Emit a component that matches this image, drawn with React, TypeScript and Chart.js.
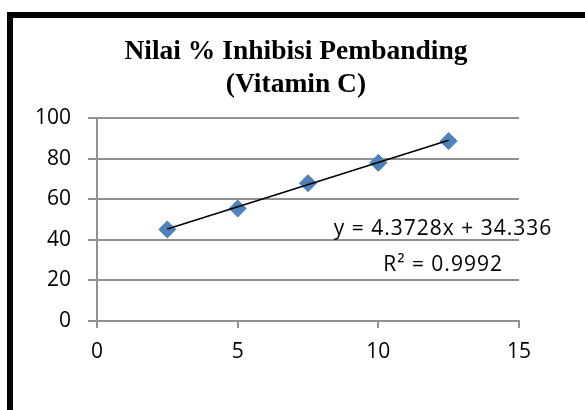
import React, { useEffect, useRef } from "react";
import { Chart, registerables } from "chart.js";

Chart.register(...registerables);

// ---- data ----
const concentrations = [2.5, 5, 7.5, 10, 12.5];
const inhibition = [45.1, 55.4, 67.9, 77.9, 88.6];
const slope = 4.3728;
const intercept = 34.336;
const rSquared = 0.9992;
const titleLines = ["Nilai % Inhibisi Pembanding", "(Vitamin C)"];
const equationText = `y = ${slope}x + ${intercept}`;
const r2Text = `R² = ${rSquared}`;
// equation label anchor (in data units)
const eqAnchorX = 12.3;
const eqAnchorY1 = 45.2;
const eqAnchorY2 = 27.4;

const TICK_FONT = { family: "'Open Sans', 'Noto Sans', sans-serif", size: 21 };
const GRID = "#919191";

const framePlugin = {
  id: "frame",
  beforeDraw(chart: any) {
    const { ctx, width, height } = chart;
    ctx.save();
    ctx.fillStyle = "#ffffff";
    ctx.fillRect(0, 0, width, height);
    ctx.fillStyle = "#000000";
    ctx.fillRect(7, 12, width - 7, 6);
    ctx.fillRect(7, 12, 6, height - 12);
    ctx.restore();
  },
};

const equationPlugin = {
  id: "equation",
  afterDraw(chart: any) {
    const { ctx, scales } = chart;
    const x = scales.x.getPixelForValue(eqAnchorX);
    ctx.save();
    ctx.font = `${TICK_FONT.size}px ${TICK_FONT.family}`;
    (ctx as any).letterSpacing = "1px";
    ctx.fillStyle = "#000000";
    ctx.textAlign = "center";
    ctx.textBaseline = "middle";
    ctx.fillText(equationText, x, scales.y.getPixelForValue(eqAnchorY1));
    ctx.fillText(r2Text, x, scales.y.getPixelForValue(eqAnchorY2));
    ctx.restore();
  },
};

export default function App() {
  const ref = useRef<HTMLCanvasElement | null>(null);

  useEffect(() => {
    if (!ref.current) return;
    const first = concentrations[0];
    const last = concentrations[concentrations.length - 1];
    const chart = new Chart(ref.current, {
      type: "scatter",
      data: {
        datasets: [
          {
            type: "line",
            label: "Trendline",
            data: [
              { x: first, y: slope * first + intercept },
              { x: last, y: slope * last + intercept },
            ],
            borderColor: "#000000",
            borderWidth: 1.6,
            pointRadius: 0,
            fill: false,
            order: 0,
          } as any,
          {
            label: "Inhibisi",
            data: concentrations.map((c, i) => ({ x: c, y: inhibition[i] })),
            pointStyle: "rectRot",
            pointRadius: 8.5,
            backgroundColor: "#4F81BD",
            borderColor: "#4A7EBB",
            borderWidth: 1,
            order: 1,
          },
        ],
      },
      options: {
        responsive: false,
        animation: false,
        devicePixelRatio: 1,
        layout: { padding: { left: 14, right: 7, top: 0, bottom: 0 } },
        plugins: {
          legend: { display: false },
          tooltip: { enabled: false },
          title: {
            display: true,
            text: titleLines,
            color: "#000000",
            font: {
              family: "'Liberation Serif', 'Times New Roman', serif",
              size: 27.5,
              weight: "bold",
              lineHeight: 1.19,
            },
            padding: { top: 36, bottom: 16.5 },
          },
        },
        scales: {
          x: {
            type: "linear",
            min: 0,
            max: 15,
            ticks: { stepSize: 5, color: "#000", font: TICK_FONT, padding: 11 },
            grid: {
              drawOnChartArea: false,
              drawTicks: true,
              tickLength: 7,
              color: GRID,
              lineWidth: 2,
            },
            border: { display: true, color: GRID, width: 2 },
            afterFit(scale: any) {
              scale.height = 89;
            },
          },
          y: {
            type: "linear",
            min: 0,
            max: 100,
            ticks: { stepSize: 20, color: "#000", font: TICK_FONT, padding: 17 },
            grid: {
              drawOnChartArea: true,
              drawTicks: true,
              tickLength: 9,
              color: GRID,
              lineWidth: 2,
            },
            border: { display: true, color: GRID, width: 2 },
            afterFit(scale: any) {
              scale.width = 83;
            },
          },
          y2: {
            type: "linear",
            position: "right",
            display: true,
            grid: { display: false, drawTicks: false },
            ticks: { display: false },
            border: { display: false },
            afterFit(scale: any) {
              scale.width = 59;
            },
          },
        },
      },
      plugins: [framePlugin, equationPlugin],
    });
    return () => chart.destroy();
  }, []);

  return (
    <div style={{ position: "fixed", left: 0, top: 0, width: 585, height: 410 }}>
      <canvas ref={ref} width={585} height={410} style={{ display: "block" }} />
    </div>
  );
}
